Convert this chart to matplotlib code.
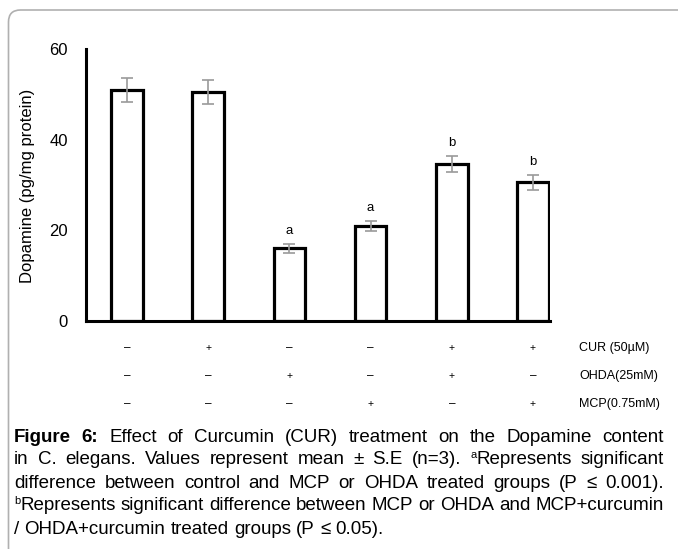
import matplotlib
matplotlib.use("Agg")
import matplotlib.pyplot as plt
from matplotlib.patches import FancyBboxPatch
from matplotlib.transforms import IdentityTransform, blended_transform_factory
import numpy as np

# data
groups = ["control", "CUR", "OHDA", "MCP", "OHDA+CUR", "MCP+CUR"]
dopamine = [51.0, 50.5, 16.0, 21.0, 34.6, 30.6]
sem = [2.7, 2.6, 0.9, 1.1, 1.7, 1.6]
sig = ["", "", "a", "a", "b", "b"]

row_labels = ["CUR (50µM)", "OHDA(25mM)", "MCP(0.75mM)"]
cur = ["–", "+", "–", "–", "+", "+"]
ohda = ["–", "–", "+", "–", "+", "–"]
mcp = ["–", "–", "–", "+", "–", "+"]

plt.rcParams['font.family'] = ['Liberation Sans', 'DejaVu Sans']

W, H = 678, 549
fig = plt.figure(figsize=(W / 100, H / 100), dpi=100)

# axes placed in pixel terms
left, right, bottom, top = 86, 550, 321, 49
ax = fig.add_axes([left / W, (H - bottom) / H, (right - left) / W, (bottom - top) / H])

x = np.arange(len(groups))
ax.bar(x, dopamine, width=0.39, color="white", edgecolor="black", linewidth=2.3, zorder=2)
ax.errorbar(x, dopamine, yerr=sem, fmt="none", ecolor="#9a9a9a", elinewidth=1.2,
            capsize=4, capthick=1.2, zorder=3)
for xi, v, e, s in zip(x, dopamine, sem, sig):
    if s:
        ax.annotate(s, (xi, v + e), xytext=(0, 5), textcoords="offset points",
                    ha="center", va="bottom", fontsize=9.5)

ax.set_xlim(-0.505, 5.21)
ax.set_ylim(0, 60)
ax.set_yticks([0, 20, 40, 60])
ax.set_xticks([])
ax.tick_params(axis="y", length=0, labelsize=12, pad=13)
for sp in ["top", "right"]:
    ax.spines[sp].set_visible(False)
for sp in ["left", "bottom"]:
    ax.spines[sp].set_linewidth(2.2)
ax.set_ylabel("Dopamine (pg/mg protein)", fontsize=12)
ax.yaxis.set_label_coords(35 / W, 1 - 186 / H, transform=fig.transFigure)

# treatment rows under the bars
tr = blended_transform_factory(ax.transData, fig.transFigure)
for row, yp in zip([cur, ohda, mcp], [348, 376, 404]):
    for xi, sym in zip(x, row):
        ax.text(xi, 1 - yp / H, sym, transform=tr, ha="center", va="center",
                fontsize=7.5 if sym == "+" else 8.5)
for lab, yp in zip(row_labels, [348, 376, 404]):
    fig.text(579 / W, 1 - yp / H, lab, ha="left", va="center", fontsize=9)

# rounded frame, open to the right and bottom
frame = FancyBboxPatch((8.5, -40), 740, H - 10 + 40, boxstyle="round,pad=0,rounding_size=12",
                       transform=IdentityTransform(), facecolor="none",
                       edgecolor="#b0b0b0", linewidth=1.2)
fig.add_artist(frame)

# caption, justified by hand
cap_lines = [
    [[("Figure", "b")], [("6:", "b")], [("Effect", "n")], [("of", "n")], [("Curcumin", "n")], [("(CUR)", "n")],
     [("treatment", "n")], [("on", "n")], [("the", "n")], [("Dopamine", "n")], [("content", "n")]],
    [[("in", "n")], [("C.", "n")], [("elegans.", "n")], [("Values", "n")], [("represent", "n")],
     [("mean", "n")], [("±", "n")], [("S.E", "n")], [("(n=3).", "n")], [("a", "s"), ("Represents", "n")],
     [("significant", "n")]],
    [[(w, "n")] for w in "difference between control and MCP or OHDA treated groups (P ≤ 0.001).".split()],
    [[("b", "s"), ("Represents", "n")]] +
    [[(w, "n")] for w in "significant difference between MCP or OHDA and MCP+curcumin".split()],
    [[(w, "n")] for w in "/ OHDA+curcumin treated groups (P ≤ 0.05).".split()],
]
cap_y = [437, 460, 483, 506, 529]
x0, x1 = 14, 664
fs = 13.5
cap_family = ['Liberation Sans Narrow', 'Liberation Sans', 'DejaVu Sans']

renderer = fig.canvas.get_renderer()


def make_piece(txt, kind, y):
    if kind == "s":
        t = fig.text(0, 1 - (y - 5) / H, txt, fontsize=8, va="center", ha="left", family=cap_family)
    else:
        t = fig.text(0, 1 - y / H, txt, fontsize=fs, va="center", ha="left", family=cap_family,
                     fontweight="bold" if kind == "b" else "normal")
    return t


space_probe = fig.text(0, 0, "a a", fontsize=fs, family=cap_family)
sw = space_probe.get_window_extent(renderer).width
space_probe.remove()
aa = fig.text(0, 0, "aa", fontsize=fs, family=cap_family)
sw -= aa.get_window_extent(renderer).width
aa.remove()

for i, (line, y) in enumerate(zip(cap_lines, cap_y)):
    tokens = []
    for tok in line:
        pieces = [make_piece(t, k, y) for t, k in tok]
        widths = [p.get_window_extent(renderer).width for p in pieces]
        tokens.append((pieces, widths))
    total = sum(sum(w) for _, w in tokens)
    justify = i < len(cap_lines) - 1
    gap = (x1 - x0 - total) / (len(tokens) - 1) if justify else sw
    cx = x0
    for pieces, widths in tokens:
        for p, w in zip(pieces, widths):
            p.set_x(cx / W)
            cx += w
        cx += gap

fig.savefig("out.png", dpi=100)
